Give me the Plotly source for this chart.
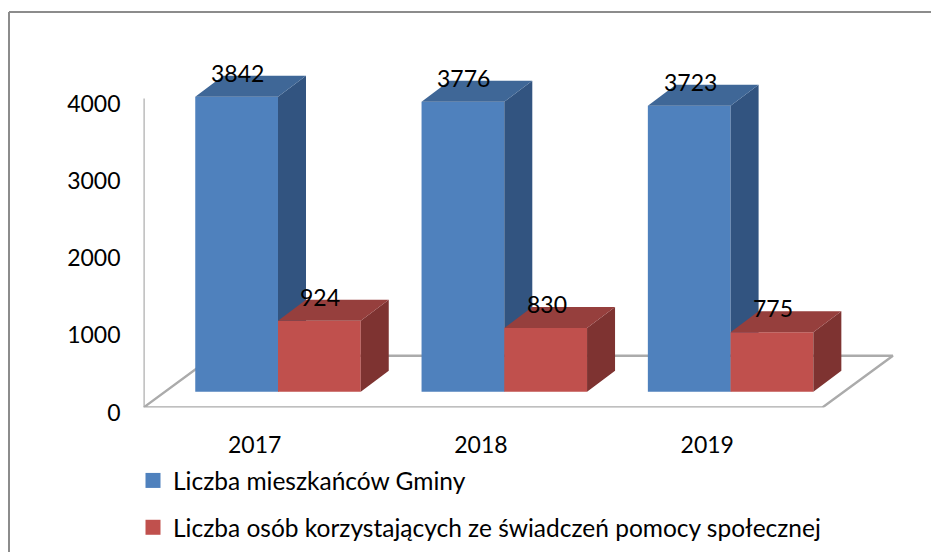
import plotly.graph_objects as go

categories = ["2017", "2018", "2019"]
residents = [3842, 3776, 3723]
recipients = [924, 830, 775]
series_names = ["Liczba mieszkańców Gminy",
                "Liczba osób korzystających ze świadczeń pomocy społecznej"]
y_ticks = [0, 1000, 2000, 3000, 4000]

BLUE, BLUE_TOP, BLUE_SIDE = "#4F81BD", "#3F6797", "#325480"
RED, RED_TOP, RED_SIDE = "#C0504D", "#963F3D", "#7E3331"
GRID = "#ABABAB"
FONT = "Lato"

# The page adds an 8 px body margin, so the figure is laid out in page px minus PAGE.
PAGE = 8
W, H = 939 - PAGE, 552 - PAGE
LEFT, BOTTOM = 143.5 - PAGE, 407.5 - PAGE
AXIS_PX = 0.07725      # px per value, front axis
BAR_PX = 0.0768        # px per value, bars
PITCH = 226.3
BAR_W = 82.75 / PITCH
DX = 28 / PITCH
DY = 21 / BAR_PX
FLOOR_DX = 70.5 / PITCH
FLOOR_DY = 51.8 / AXIS_PX
BASE_Y = 391.7 - PAGE
BAR_CENTER0 = 278 - PAGE
xs = list(range(len(categories)))


def faces(vals, x0):
    side_x, side_y, top_x, top_y = [], [], [], []
    for i, v in zip(xs, vals):
        l, r = i + x0, i + x0 + BAR_W
        side_x += [r, r + DX, r + DX, r, r, None]
        side_y += [0, DY, v + DY, v, 0, None]
        top_x += [l, l + DX, r + DX, r, l, None]
        top_y += [v, v + DY, v + DY, v, v, None]
    return side_x, side_y, top_x, top_y


fig = go.Figure()

# floor and left axis of the back wall
fig.add_trace(go.Scatter(
    x=[-0.5, -0.5 + FLOOR_DX, 2.5 + FLOOR_DX, 2.5, -0.5],
    y=[0, FLOOR_DY, FLOOR_DY, 0, 0],
    mode="lines", line=dict(color=GRID, width=2.4), showlegend=False, hoverinfo="skip",
    xaxis="x", yaxis="y", cliponaxis=False))
fig.add_trace(go.Scatter(
    x=[-0.5, -0.5], y=[y_ticks[0], y_ticks[-1]],
    mode="lines", line=dict(color=GRID, width=2.4), showlegend=False, hoverinfo="skip",
    xaxis="x", yaxis="y", cliponaxis=False))

for vals, x0, col, top, side, ax in [
    (residents, -BAR_W, BLUE, BLUE_TOP, BLUE_SIDE, "2"),
    (recipients, 0, RED, RED_TOP, RED_SIDE, "3"),
]:
    fig.add_trace(go.Bar(x=xs, y=vals, width=BAR_W, offset=x0, marker=dict(color=col, line=dict(width=0)),
                         showlegend=False, xaxis="x" + ax, yaxis="y" + ax))
    sx, sy, tx, ty = faces(vals, x0)
    fig.add_trace(go.Scatter(x=sx, y=sy, fill="toself", fillcolor=side, mode="lines", line=dict(width=0),
                             showlegend=False, hoverinfo="skip", xaxis="x" + ax, yaxis="y" + ax))
    fig.add_trace(go.Scatter(x=tx, y=ty, fill="toself", fillcolor=top, mode="lines", line=dict(width=0),
                             showlegend=False, hoverinfo="skip", xaxis="x" + ax, yaxis="y" + ax))

# legend entries
for name, col, g in [(series_names[0], BLUE, "a"), (series_names[1], RED, "b")]:
    fig.add_trace(go.Scatter(x=[None], y=[None], mode="markers", name=name, legendgroup=g,
                             marker=dict(symbol="square", size=15, color=col), xaxis="x", yaxis="y"))

ann = []
for vals, x0, ax in [(residents, -BAR_W / 2, "2"), (recipients, BAR_W / 2, "3")]:
    for i, v in zip(xs, vals):
        ann.append(dict(x=i + x0, y=v, xref="x" + ax, yref="y" + ax, text=str(v), showarrow=False,
                        yshift=24, xshift=1, font=dict(family=FONT, size=23, color="#000000")))

# margins are zero, so domains are fractions of the full figure
x_dom = [LEFT / W, 1]
PW = W - LEFT
f = (H - BOTTOM) / H
x2_lo = (LEFT - BAR_CENTER0) / PITCH
x2_hi = (W - BAR_CENTER0) / PITCH
y2_lo = -(BOTTOM - BASE_Y) / BAR_PX
y2_hi = y2_lo + BOTTOM / BAR_PX
x_hidden = dict(range=[x2_lo, x2_hi], visible=False, fixedrange=True)
y_hidden = dict(range=[y2_lo, y2_hi], visible=False, fixedrange=True)

fig.update_layout(
    width=W, height=H, autosize=False,
    margin=dict(l=0, r=0, t=0, b=0, pad=0, autoexpand=False),
    paper_bgcolor="white", plot_bgcolor="white",
    font=dict(family=FONT, size=23, color="#000000"),
    barmode="overlay",
    xaxis=dict(domain=x_dom, range=[-0.5, -0.5 + PW / PITCH], tickvals=xs, ticktext=categories, tickangle=0,
               showgrid=False, zeroline=False, showline=False, ticks="", ticklabelstandoff=21,
               ticklabelshift=-2, tickfont=dict(family=FONT, size=23)),
    yaxis=dict(domain=[f, 1], range=[0, BOTTOM / AXIS_PX], tickvals=y_ticks,
               showgrid=False, zeroline=False, showline=False,
               ticks="", ticklabelstandoff=22, ticklabelshift=5, tickfont=dict(family=FONT, size=23)),
    xaxis2=dict(overlaying="x", anchor="y2", **x_hidden),
    yaxis2=dict(overlaying="y", anchor="x2", **y_hidden),
    xaxis3=dict(overlaying="x", anchor="y3", **x_hidden),
    yaxis3=dict(overlaying="y", anchor="x3", **y_hidden),
    legend=dict(x=(133 - PAGE) / W, y=1 - (458 - PAGE) / H, xanchor="left", yanchor="top",
                tracegroupgap=12, bgcolor="rgba(0,0,0,0)", font=dict(family=FONT, size=24.5)),
    annotations=ann,
    shapes=[
        dict(type="line", xref="paper", yref="paper", x0=(9 - PAGE) / W, x1=1,
             y0=1 - (12 - PAGE) / H, y1=1 - (12 - PAGE) / H, line=dict(color="#8C8C8C", width=2)),
        dict(type="line", xref="paper", yref="paper", x0=(9 - PAGE) / W, x1=(9 - PAGE) / W,
             y0=1 - (12 - PAGE) / H, y1=0, line=dict(color="#8C8C8C", width=2)),
    ],
)
fig.write_html("out.html")
